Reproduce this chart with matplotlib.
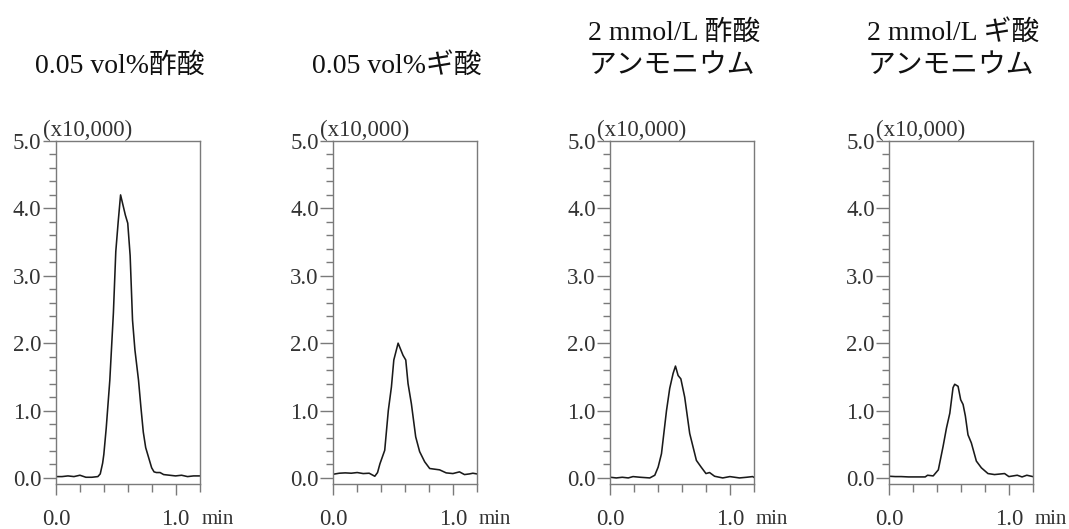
import numpy as np
import matplotlib
matplotlib.use("Agg")
import matplotlib.pyplot as plt
from matplotlib.ticker import MultipleLocator, FixedLocator

# タイトル (上段, 下段)
titles = [("0.05 vol%酢酸", None),
          ("0.05 vol%ギ酸", None),
          ("2 mmol/L 酢酸", "アンモニウム"),
          ("2 mmol/L ギ酸", "アンモニウム")]

# クロマトグラム: 時間 (min) と強度 (x10,000)
t1 = [0.0, 0.05, 0.10, 0.15, 0.20, 0.25, 0.30, 0.35, 0.37, 0.39, 0.40, 0.42, 0.45,
      0.48, 0.50, 0.52, 0.54, 0.56, 0.58, 0.60, 0.62, 0.64, 0.66, 0.69, 0.71,
      0.73, 0.75, 0.78, 0.80, 0.82, 0.84, 0.87, 0.90, 0.95, 1.0, 1.05, 1.1, 1.15, 1.2]
y1 = [0.02, 0.02, 0.03, 0.02, 0.04, 0.01, 0.01, 0.02, 0.06, 0.22, 0.35, 0.74, 1.45,
      2.45, 3.36, 3.80, 4.20, 4.05, 3.90, 3.78, 3.30, 2.34, 1.90, 1.45, 1.05,
      0.68, 0.45, 0.27, 0.15, 0.09, 0.08, 0.08, 0.05, 0.04, 0.03, 0.04, 0.02, 0.03, 0.03]

t2 = [0.0, 0.05, 0.10, 0.15, 0.20, 0.25, 0.30, 0.347, 0.37, 0.39, 0.43, 0.46, 0.486,
      0.506, 0.542, 0.583, 0.606, 0.625, 0.653, 0.689, 0.722, 0.764, 0.806, 0.847,
      0.889, 0.944, 1.0, 1.055, 1.097, 1.14, 1.167, 1.2]
y2 = [0.055, 0.07, 0.075, 0.07, 0.08, 0.065, 0.07, 0.025, 0.08, 0.21, 0.41, 1.0, 1.35,
      1.75, 2.00, 1.82, 1.75, 1.40, 1.10, 0.61, 0.39, 0.24, 0.14, 0.13,
      0.12, 0.075, 0.065, 0.09, 0.05, 0.06, 0.07, 0.06]

t3 = [0.0, 0.05, 0.10, 0.15, 0.19, 0.25, 0.33, 0.372, 0.40, 0.428, 0.47, 0.497,
      0.525, 0.545, 0.567, 0.59, 0.622, 0.664, 0.692, 0.72, 0.76, 0.80, 0.83,
      0.872, 0.94, 1.0, 1.08, 1.14, 1.19, 1.2]
y3 = [0.01, 0.0, 0.01, 0.0, 0.02, 0.01, 0.0, 0.04, 0.16, 0.36, 1.0, 1.33,
      1.55, 1.66, 1.52, 1.47, 1.20, 0.66, 0.46, 0.26, 0.16, 0.065, 0.08,
      0.025, 0.0, 0.02, 0.0, 0.01, 0.02, 0.01]

t4 = [0.0, 0.05, 0.10, 0.16, 0.22, 0.30, 0.32, 0.367, 0.41, 0.45, 0.478, 0.506,
      0.533, 0.547, 0.575, 0.597, 0.617, 0.636, 0.658, 0.686, 0.728, 0.77, 0.825,
      0.88, 0.964, 1.0, 1.07, 1.11, 1.15, 1.2]
y4 = [0.025, 0.02, 0.02, 0.015, 0.015, 0.015, 0.04, 0.03, 0.12, 0.47, 0.74, 0.96,
      1.34, 1.39, 1.36, 1.16, 1.09, 0.92, 0.64, 0.52, 0.25, 0.15, 0.065,
      0.05, 0.065, 0.02, 0.04, 0.015, 0.04, 0.02]

times = [t1, t2, t3, t4]
signals = [y1, y2, y3, y4]

W, H = 1069, 529
fig = plt.figure(figsize=(W / 100, H / 100), dpi=100)
fig.patch.set_facecolor("white")

serif = ["Liberation Serif", "Noto Sans CJK JP", "DejaVu Sans"]
gray = "#7a7a7a"
txt = "#333333"

lefts = [56, 333.3, 610.3, 889.3]   # px
top_px, bot_px, width_px = 141, 484, 143.5

for i in range(4):
    ax = fig.add_axes([lefts[i] / W, 1 - bot_px / H, width_px / W, (bot_px - top_px) / H])
    ax.plot(times[i], signals[i], color="#1a1a1a", lw=1.15)
    ax.set_xlim(0, 1.2)
    ax.set_ylim(-0.09, 5.0)

    for s in ax.spines.values():
        s.set_color(gray)
        s.set_linewidth(1.0)

    ax.yaxis.set_major_locator(FixedLocator([0, 1, 2, 3, 4, 5]))
    ax.yaxis.set_minor_locator(MultipleLocator(0.2))
    ax.xaxis.set_major_locator(FixedLocator([0.0, 1.0]))
    ax.xaxis.set_minor_locator(MultipleLocator(0.2))
    ax.set_yticklabels(["0.0", "1.0", "2.0", "3.0", "4.0", "5.0"])
    ax.set_xticklabels(["0.0", "1.0"])

    ax.tick_params(axis="y", which="major", direction="out", length=9.5, width=1.0,
                   color=gray, pad=1, labelsize=16.5, labelcolor=txt)
    ax.tick_params(axis="y", which="minor", direction="out", length=5, width=1.0, color=gray)
    ax.tick_params(axis="x", which="major", direction="out", length=8, width=1.0,
                   color=gray, pad=10, labelsize=16.5, labelcolor=txt)
    ax.tick_params(axis="x", which="minor", direction="out", length=6, width=1.0, color=gray)
    for lab in ax.get_xticklabels() + ax.get_yticklabels():
        lab.set_family(serif)

    ax.text(-0.09, 1.0, "(x10,000)", transform=ax.transAxes, ha="left", va="bottom",
            fontsize=16.5, family=serif, color=txt)
    ax.text(1.012, -0.104, "min", transform=ax.transAxes, ha="left", va="center",
            fontsize=15, family=serif, color=txt)

    line1, line2 = titles[i]
    if line2 is None:
        cx = (lefts[i] + width_px / 2 - 8) / W
        fig.text(cx, 1 - 66 / H, line1, ha="center", va="center", fontsize=20,
                 family=serif, color="#111111")
    else:
        x0 = (lefts[i] - 22) / W
        fig.text(x0, 1 - 33 / H, line1, ha="left", va="center", fontsize=20,
                 family=serif, color="#111111")
        fig.text(x0, 1 - 67 / H, line2, ha="left", va="center", fontsize=20,
                 family=serif, color="#111111")

fig.savefig("out.png", dpi=100, facecolor="white")
